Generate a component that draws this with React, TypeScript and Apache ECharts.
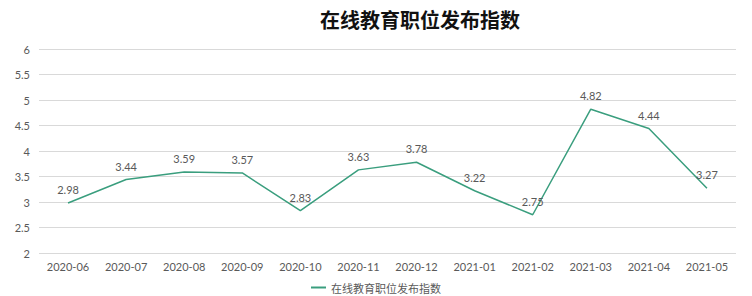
import React, { useEffect, useRef } from "react";
import * as echarts from "echarts";

const categories = ["2020-06", "2020-07", "2020-08", "2020-09", "2020-10", "2020-11", "2020-12", "2021-01", "2021-02", "2021-03", "2021-04", "2021-05"];
const values = [2.98, 3.44, 3.59, 3.57, 2.83, 3.63, 3.78, 3.22, 2.75, 4.82, 4.44, 3.27];
const seriesName = "在线教育职位发布指数";
const titleText = "在线教育职位发布指数";

export default function App() {
  const ref = useRef<HTMLDivElement>(null);
  useEffect(() => {
    if (!ref.current) return;
    const chart = echarts.init(ref.current, null, { renderer: "svg" });
    const font = "Lato, 'Noto Sans CJK SC', sans-serif";
    chart.setOption({
      animation: false,
      textStyle: { fontFamily: font },
      title: {
        text: titleText,
        left: 420,
        textAlign: "center",
        top: 9,
        padding: 0,
        textStyle: { fontSize: 20, fontWeight: "bold", color: "#111", fontFamily: "'Noto Sans CJK SC', sans-serif" },
      },
      legend: {
        bottom: 3,
        left: "center",
        padding: 0,
        itemWidth: 15,
        itemHeight: 2,
        icon: "rect",
        itemGap: 4,
        itemStyle: { color: "#3a9e7e", opacity: 1 },
        textStyle: { fontSize: 11, color: "#595959", fontFamily: "'Noto Sans CJK SC', sans-serif" },
        data: [seriesName],
      },
      grid: { left: 39, right: 16, top: 49, bottom: 43 },
      xAxis: {
        type: "category",
        data: categories,
        boundaryGap: true,
        axisLine: { show: false },
        axisTick: { show: false },
        axisLabel: { color: "#595959", fontSize: 11, margin: 8, fontFamily: font },
      },
      yAxis: {
        type: "value",
        min: 2,
        max: 6,
        interval: 0.5,
        axisLine: { show: false },
        axisTick: { show: false },
        axisLabel: { color: "#595959", fontSize: 11, margin: 9, fontFamily: font },
        splitLine: { lineStyle: { color: "#d9d9d9", width: 1 } },
      },
      series: [
        {
          name: seriesName,
          type: "line",
          data: values,
          symbol: "circle",
          symbolSize: 2,
          showSymbol: true,
          lineStyle: { color: "#3a9e7e", width: 1.5 },
          itemStyle: { color: "rgba(0,0,0,0)", borderWidth: 0 },
          label: {
            show: true,
            position: "top",
            distance: 7,
            color: "#595959",
            fontSize: 11,
            fontFamily: font,
          },
        },
      ],
    });
    return () => chart.dispose();
  }, []);
  return <div ref={ref} style={{ position: "absolute", left: 0, top: 0, width: 752, height: 296 }} />;
}
